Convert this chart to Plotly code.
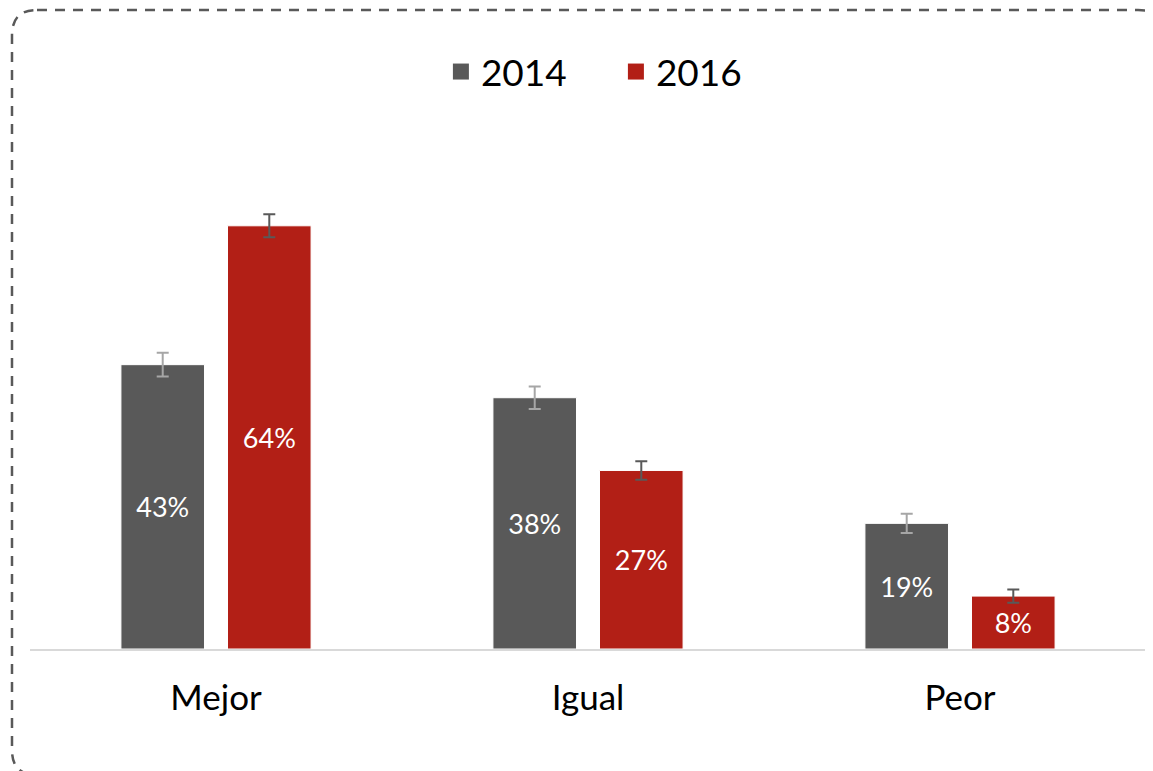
import plotly.graph_objects as go

categories = ["Mejor", "Igual", "Peor"]
series_names = ["2014", "2016"]
values_2014 = [43, 38, 19]
values_2016 = [64, 27, 8]
err_2014 = [1.8, 1.7, 1.45]
err_2016 = [1.75, 1.4, 1.0]

# the page body keeps an 8px margin, so the figure is drawn 8px smaller
OFF = 8
W, H = 1153 - OFF, 771 - OFF
L, R, T, B = 22, 7, 112, 122
FONT = "Lato"

GRAY = "#595959"
RED = "#b21f16"


def to_paper(px, py):
    # pixel position on the page -> paper coordinates
    fx, fy = px - OFF, py - OFF
    return (fx - L) / (W - L - R), (H - B - fy) / (H - T - B)


def rounded_rect(x0, y0, x1, y1, r):
    pts = [
        ("M", [(x0 + r, y0)]),
        ("L", [(x1 - r, y0)]),
        ("Q", [(x1, y0), (x1, y0 + r)]),
        ("L", [(x1, y1 - r)]),
        ("Q", [(x1, y1), (x1 - r, y1)]),
        ("L", [(x0 + r, y1)]),
        ("Q", [(x0, y1), (x0, y1 - r)]),
        ("L", [(x0, y0 + r)]),
        ("Q", [(x0, y0), (x0 + r, y0)]),
    ]
    out = []
    for cmd, ps in pts:
        coords = " ".join("%.5f,%.5f" % to_paper(*p) for p in ps)
        out.append(cmd + coords)
    return " ".join(out) + " Z"


fig = go.Figure()

fig.add_trace(go.Bar(
    x=categories, y=values_2014, name="2014", showlegend=False,
    marker=dict(color=GRAY, line=dict(color="white", width=1)),
    error_y=dict(type="data", array=err_2014, color="#a6a6a6", thickness=2, width=6),
    text=[f"{v}%" for v in values_2014], textposition="inside",
    insidetextanchor="middle", textangle=0,
    textfont=dict(family=FONT, size=27, color="white"),
))
fig.add_trace(go.Bar(
    x=categories, y=values_2016, name="2016", showlegend=False,
    marker=dict(color=RED, line=dict(color="white", width=1)),
    error_y=dict(type="data", array=err_2016, color=GRAY, thickness=2, width=6),
    text=[f"{v}%" for v in values_2016], textposition="inside",
    insidetextanchor="middle", textangle=0,
    textfont=dict(family=FONT, size=27, color="white"),
))

# legend entries with bigger square swatches
for name, col in zip(series_names, [GRAY, RED]):
    fig.add_trace(go.Scatter(
        x=[None], y=[None], mode="markers", name=name,
        marker=dict(symbol="square", size=16, color=col),
    ))

fig.update_layout(
    width=W, height=H,
    margin=dict(l=L, r=R, t=T, b=B),
    paper_bgcolor="white", plot_bgcolor="white",
    font=dict(family=FONT, color="black"),
    barmode="group", bargap=0.427, bargroupgap=0.216,
    uniformtext=dict(minsize=10, mode="show"),
    legend=dict(
        orientation="h", x=0.525, xanchor="center", y=to_paper(0, 72)[1],
        yanchor="middle", font=dict(size=37), itemsizing="trace",
        entrywidth=130, entrywidthmode="pixels",
        bgcolor="rgba(0,0,0,0)",
    ),
    showlegend=True,
)

fig.update_xaxes(
    showline=True, linecolor="#d9d9d9", linewidth=2, showgrid=False,
    ticks="outside", ticklen=17, tickcolor="rgba(0,0,0,0)",
    tickfont=dict(family=FONT, size=35, color="black"),
)
fig.update_yaxes(range=[0, 80], visible=False, showgrid=False)

fig.add_shape(
    type="path", xref="paper", yref="paper",
    path=rounded_rect(12, 10, 1163, 775, 25),
    line=dict(color=GRAY, width=2.5, dash="10px,8px"),
    layer="above",
)

fig.write_html("out.html")
